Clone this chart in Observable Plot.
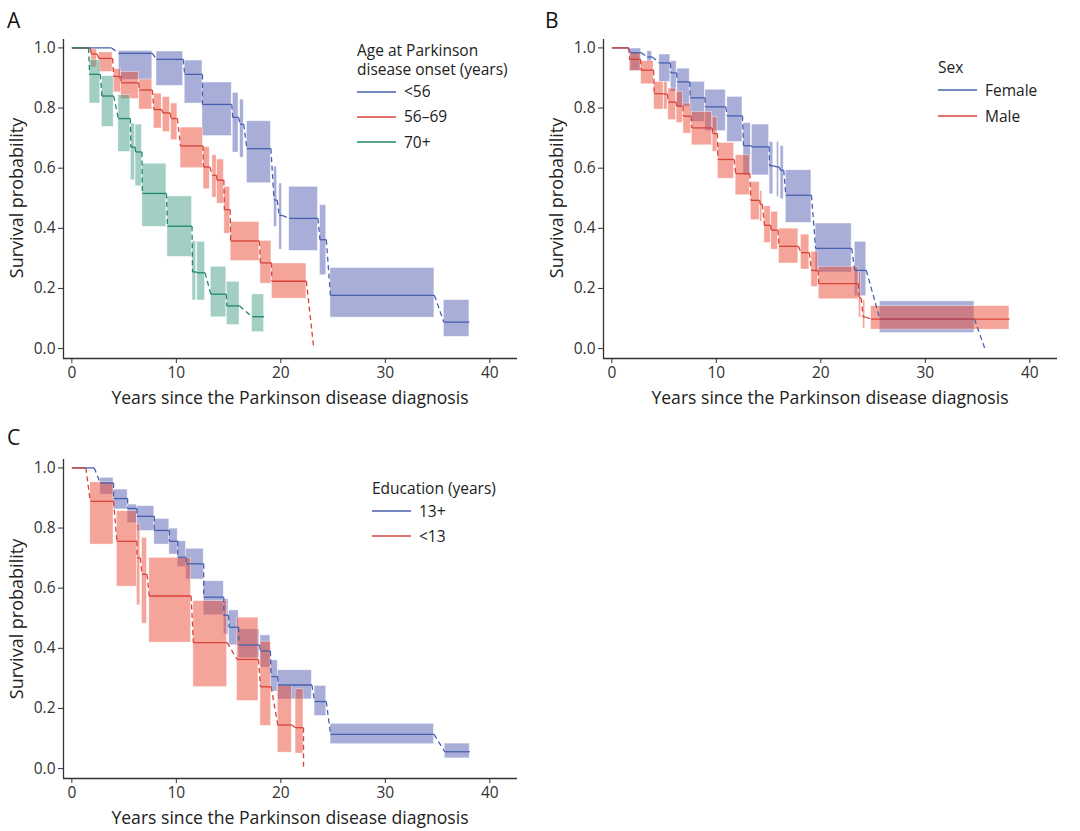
<!DOCTYPE html>
<html><head><meta charset="utf-8">
<script src="https://cdn.jsdelivr.net/npm/d3@7"></script>
<script src="https://cdn.jsdelivr.net/npm/@observablehq/plot@0.6"></script>
<style>
body{margin:0;background:#fff;font-family:"Open Sans",sans-serif;}
#root{position:relative;width:1080px;height:831px;overflow:hidden;}
.panel{position:absolute;}
.letter{position:absolute;font-size:21px;color:#111;line-height:24px;}
.xt{position:absolute;font-size:17.6px;color:#222;text-align:center;width:454px;line-height:22px;white-space:nowrap;}
.yt{position:absolute;font-size:18px;color:#222;text-align:center;width:320px;line-height:22px;transform:rotate(-90deg);white-space:nowrap;}
.lg{position:absolute;font-size:15.5px;color:#222;line-height:17px;white-space:nowrap;}
.lgt{position:absolute;font-size:15.5px;color:#222;line-height:19.5px;width:170px;white-space:normal;}
</style></head>
<body><div id="root"></div>
<script>
// ---- categories & ticks ----
const ageGroups = ["<56", "56–69", "70+"];
const sexGroups = ["Female", "Male"];
const eduGroups = ["13+", "<13"];
const xTicks = [0, 10, 20, 30, 40];
const yTicks = [0, 0.2, 0.4, 0.6, 0.8, 1.0];
const xTitle = "Years since the Parkinson disease diagnosis";
const yTitle = "Survival probability";

// ---- data: [interval start, interval end, estimate, lower CI, upper CI] (years, probability) ----
const ageLt56 = [
  [0, 3.8, 1.0],
  [4.5, 7.7, 0.982, 0.894, 0.990],
  [8.1, 10.65, 0.962, 0.874, 0.988],
  [10.8, 12.5, 0.912, 0.815, 0.958],
  [12.5, 15.3, 0.812, 0.707, 0.885],
  [15.4, 15.95, 0.769, 0.652, 0.850],
  [16.1, 16.45, 0.746, 0.635, 0.828],
  [16.75, 19.05, 0.665, 0.550, 0.756],
  [19.35, 19.65, 0.494, 0.405, 0.605],
  [19.85, 20.12, 0.443, 0.329, 0.549],
  [20.8, 23.55, 0.433, 0.325, 0.538],
  [23.75, 24.35, 0.362, 0.244, 0.477],
  [24.75, 34.7, 0.177, 0.103, 0.268],
  [35.6, 38.05, 0.088, 0.039, 0.161]
];
const age56to69 = [
  [0, 1.75, 1.0],
  [1.85, 2.4, 0.980, 0.935, 0.995],
  [2.6, 3.9, 0.965, 0.920, 0.985],
  [4.0, 4.7, 0.905, 0.852, 0.930],
  [4.7, 6.4, 0.884, 0.830, 0.920],
  [6.45, 7.7, 0.860, 0.795, 0.895],
  [7.85, 8.6, 0.795, 0.732, 0.848],
  [8.7, 9.4, 0.784, 0.720, 0.837],
  [9.5, 10.1, 0.765, 0.693, 0.815],
  [10.4, 12.55, 0.674, 0.600, 0.735],
  [12.6, 13.2, 0.604, 0.530, 0.670],
  [13.45, 13.85, 0.576, 0.502, 0.643],
  [13.9, 14.55, 0.560, 0.482, 0.629],
  [14.6, 15.15, 0.462, 0.382, 0.538],
  [15.2, 17.95, 0.358, 0.291, 0.421],
  [18.05, 19.1, 0.285, 0.216, 0.358],
  [19.15, 22.45, 0.224, 0.166, 0.283],
  [23.15, 23.15, 0.0]
];
const age70plus = [
  [0, 1.6, 1.0],
  [1.7, 2.72, 0.912, 0.815, 0.959],
  [2.88, 4.0, 0.840, 0.737, 0.906],
  [4.45, 5.6, 0.765, 0.654, 0.843],
  [5.65, 6.05, 0.670, 0.560, 0.748],
  [6.1, 6.7, 0.654, 0.540, 0.745],
  [6.75, 9.05, 0.516, 0.405, 0.615],
  [9.15, 11.5, 0.407, 0.305, 0.506],
  [11.55, 11.9, 0.255, 0.160, 0.357],
  [12.0, 12.75, 0.252, 0.160, 0.355],
  [13.3, 14.78, 0.181, 0.104, 0.272],
  [14.83, 16.05, 0.142, 0.078, 0.222],
  [17.25, 18.4, 0.106, 0.055, 0.180]
];
const sexFemale = [
  [0, 1.6, 1.0],
  [1.8, 2.8, 0.984, 0.923, 0.998],
  [3.4, 3.85, 0.970, 0.953, 0.989],
  [4.55, 5.6, 0.950, 0.887, 0.978],
  [5.65, 6.2, 0.917, 0.854, 0.956],
  [6.27, 7.45, 0.887, 0.804, 0.931],
  [7.5, 8.9, 0.834, 0.754, 0.887],
  [8.95, 10.9, 0.804, 0.723, 0.861],
  [11.05, 12.5, 0.774, 0.687, 0.837],
  [12.6, 13.3, 0.675, 0.576, 0.750],
  [13.4, 15.05, 0.671, 0.576, 0.745],
  [15.1, 15.45, 0.608, 0.513, 0.687],
  [15.8, 16.0, 0.604, 0.505, 0.687],
  [16.15, 16.45, 0.593, 0.497, 0.673],
  [16.65, 19.1, 0.510, 0.418, 0.593],
  [19.5, 22.95, 0.333, 0.253, 0.416],
  [23.25, 24.35, 0.260, 0.174, 0.355],
  [25.65, 34.7, 0.098, 0.052, 0.157],
  [35.7, 35.7, 0.0]
];
const sexMale = [
  [0, 1.6, 1.0],
  [1.7, 2.75, 0.962, 0.923, 0.983],
  [2.8, 4.0, 0.926, 0.879, 0.956],
  [4.05, 4.95, 0.848, 0.795, 0.887],
  [5.0, 5.33, 0.846, 0.795, 0.887],
  [5.4, 6.15, 0.820, 0.760, 0.865],
  [6.2, 6.8, 0.806, 0.750, 0.854],
  [6.85, 7.6, 0.773, 0.715, 0.815],
  [7.65, 9.6, 0.734, 0.676, 0.787],
  [9.65, 10.1, 0.715, 0.655, 0.770],
  [10.15, 11.7, 0.629, 0.565, 0.684],
  [11.85, 13.2, 0.582, 0.510, 0.643],
  [13.3, 14.15, 0.493, 0.427, 0.554],
  [14.2, 14.4, 0.480, 0.421, 0.524],
  [14.6, 15.2, 0.410, 0.351, 0.473],
  [15.25, 15.9, 0.394, 0.329, 0.455],
  [16.0, 17.85, 0.340, 0.283, 0.399],
  [18.1, 18.9, 0.319, 0.263, 0.379],
  [19.1, 19.75, 0.260, 0.205, 0.322],
  [19.8, 23.6, 0.216, 0.164, 0.272],
  [23.65, 23.85, 0.168, 0.103, 0.254],
  [24.05, 24.25, 0.105, 0.067, 0.160],
  [24.8, 38.05, 0.098, 0.063, 0.141]
];
const edu13plus = [
  [0, 2.14, 1.0],
  [2.72, 3.99, 0.950, 0.911, 0.967],
  [3.99, 5.34, 0.898, 0.862, 0.928],
  [5.34, 6.23, 0.865, 0.817, 0.878],
  [6.23, 7.89, 0.839, 0.790, 0.873],
  [7.89, 9.33, 0.792, 0.745, 0.830],
  [9.33, 10.13, 0.756, 0.712, 0.798],
  [10.13, 10.93, 0.703, 0.670, 0.756],
  [10.93, 12.62, 0.681, 0.629, 0.731],
  [12.62, 14.54, 0.570, 0.510, 0.623],
  [14.54, 15.0, 0.510, 0.446, 0.563],
  [15.05, 15.97, 0.470, 0.410, 0.526],
  [15.97, 17.96, 0.411, 0.367, 0.463],
  [18.05, 19.0, 0.391, 0.336, 0.443],
  [19.07, 19.71, 0.306, 0.256, 0.360],
  [19.71, 22.97, 0.278, 0.230, 0.327],
  [23.23, 24.35, 0.223, 0.175, 0.275],
  [24.76, 34.66, 0.114, 0.081, 0.149],
  [35.69, 38.08, 0.056, 0.034, 0.083]
];
const eduLt13 = [
  [0, 1.34, 1.0],
  [1.76, 3.99, 0.889, 0.745, 0.952],
  [4.31, 6.23, 0.756, 0.605, 0.856],
  [6.23, 6.55, 0.701, 0.543, 0.812],
  [6.71, 7.19, 0.646, 0.482, 0.767],
  [7.41, 11.41, 0.574, 0.419, 0.701],
  [11.63, 14.86, 0.419, 0.271, 0.557],
  [15.81, 17.86, 0.363, 0.225, 0.502],
  [18.05, 19.07, 0.272, 0.142, 0.422],
  [19.71, 21.05, 0.145, 0.053, 0.275],
  [21.41, 22.17, 0.136, 0.050, 0.264],
  [22.17, 22.17, 0.0]
];

// ---- styles ----
const lineBlue = "#4760ad", lineRed = "#d8433a", lineTeal = "#1f876b";
const fillBlue = "#515db1", fillRed = "#eb4a36", fillTeal = "#459d89";
const xDomain = [-0.8, 42.65];
const yDomain = [-0.033, 1.028];

function buildPanel(groupNames, groupData, lineCols, fillCols) {
  const rects = [], segs = [], links = [];
  groupNames.forEach((g, gi) => {
    const rows = groupData[gi];
    rows.forEach((r, i) => {
      const [s, e, est, lo, hi] = r;
      if (lo != null) rects.push({gi, s, e, lo, hi});
      if (e > s) segs.push({gi, s, e, est});
      if (i > 0) {
        const p = rows[i - 1];
        links.push({gi, x1: p[1], y1: p[2], x2: s, y2: est});
      }
    });
  });
  return Plot.plot({
    width: 540, height: 410,
    marginLeft: 63, marginRight: 23, marginTop: 39, marginBottom: 52,
    x: {domain: xDomain},
    y: {domain: yDomain},
    color: {type: "identity"},
    style: {fontFamily: "Open Sans", fontSize: "15px", color: "#333", background: "transparent", overflow: "visible"},
    marks: [
      Plot.rect(rects, {x1: "s", x2: "e", y1: "lo", y2: "hi", fill: d => fillCols[d.gi], fillOpacity: 0.5,
        stroke: "white", strokeWidth: 0.7, strokeOpacity: 0.6}),
      Plot.link(links, {x1: "x1", y1: "y1", x2: "x2", y2: "y2", stroke: d => lineCols[d.gi], strokeWidth: 1.3, strokeDasharray: "5,3.5"}),
      Plot.link(segs, {x1: "s", x2: "e", y1: "est", y2: "est", stroke: d => lineCols[d.gi], strokeWidth: 1.3}),
      Plot.ruleX([xDomain[0]], {y1: yDomain[0], y2: yDomain[1], stroke: "#333", strokeWidth: 1.3}),
      Plot.ruleY([yDomain[0]], {x1: xDomain[0], x2: xDomain[1], stroke: "#333", strokeWidth: 1.3}),
      Plot.axisX({ticks: xTicks, tickSize: 5, tickPadding: 3, fontSize: 15.5, label: null, stroke: "#333", fill: "#333"}),
      Plot.axisY({ticks: yTicks, tickFormat: d3.format(".1f"), tickSize: 5, tickPadding: 3, fontSize: 15.5, label: null, stroke: "#333", fill: "#333"})
    ]
  });
}

const root = document.getElementById("root");
function addDiv(cls, text, left, top, extra) {
  const d = document.createElement("div");
  d.className = cls; d.textContent = text;
  d.style.left = left + "px"; d.style.top = top + "px";
  if (extra) Object.assign(d.style, extra);
  root.appendChild(d);
  return d;
}
function addLegend(title, names, lineCols, x, titleTop, itemY0, itemStep) {
  addDiv("lgt", title, x, titleTop);
  names.forEach((n, i) => {
    const cy = itemY0 + i * itemStep;
    const s = document.createElementNS("http://www.w3.org/2000/svg", "svg");
    s.setAttribute("width", 40); s.setAttribute("height", 4);
    s.style.position = "absolute"; s.style.left = x + "px"; s.style.top = (cy - 2) + "px";
    const l = document.createElementNS("http://www.w3.org/2000/svg", "line");
    l.setAttribute("x1", 0); l.setAttribute("x2", 39); l.setAttribute("y1", 2); l.setAttribute("y2", 2);
    l.setAttribute("stroke", lineCols[i]); l.setAttribute("stroke-width", 1.4);
    s.appendChild(l); root.appendChild(s);
    addDiv("lg", n, x + 47, cy - 8.5);
  });
}
function place(svg, left, top) {
  const w = document.createElement("div");
  w.className = "panel"; w.style.left = left + "px"; w.style.top = top + "px";
  w.appendChild(svg); root.appendChild(w);
}

// Panel A
place(buildPanel(ageGroups, [ageLt56, age56to69, age70plus], [lineBlue, lineRed, lineTeal], [fillBlue, fillRed, fillTeal]), 0, 0);
addDiv("letter", "A", 7, 8);
addDiv("xt", xTitle, 63, 386);
addDiv("yt", yTitle, 16 - 160, 198 - 11);
addLegend("Age at Parkinson disease onset (years)", ageGroups, [lineBlue, lineRed, lineTeal], 357, 40.5, 91.5, 25.3);

// Panel B
place(buildPanel(sexGroups, [sexFemale, sexMale], [lineBlue, lineRed], [fillBlue, fillRed]), 540, 0);
addDiv("letter", "B", 545, 8);
addDiv("xt", xTitle, 603, 386);
addDiv("yt", yTitle, 556 - 160, 198 - 11);
addLegend("Sex", sexGroups, [lineBlue, lineRed], 938, 57.5, 90, 26);

// Panel C
place(buildPanel(eduGroups, [edu13plus, eduLt13], [lineBlue, lineRed], [fillBlue, fillRed]), 0, 420);
addDiv("letter", "C", 7, 425);
addDiv("xt", xTitle, 63, 806);
addDiv("yt", yTitle, 16 - 160, 619 - 11);
addLegend("Education (years)", eduGroups, [lineBlue, lineRed], 372, 478.5, 511, 25);
</script>
</body></html>
